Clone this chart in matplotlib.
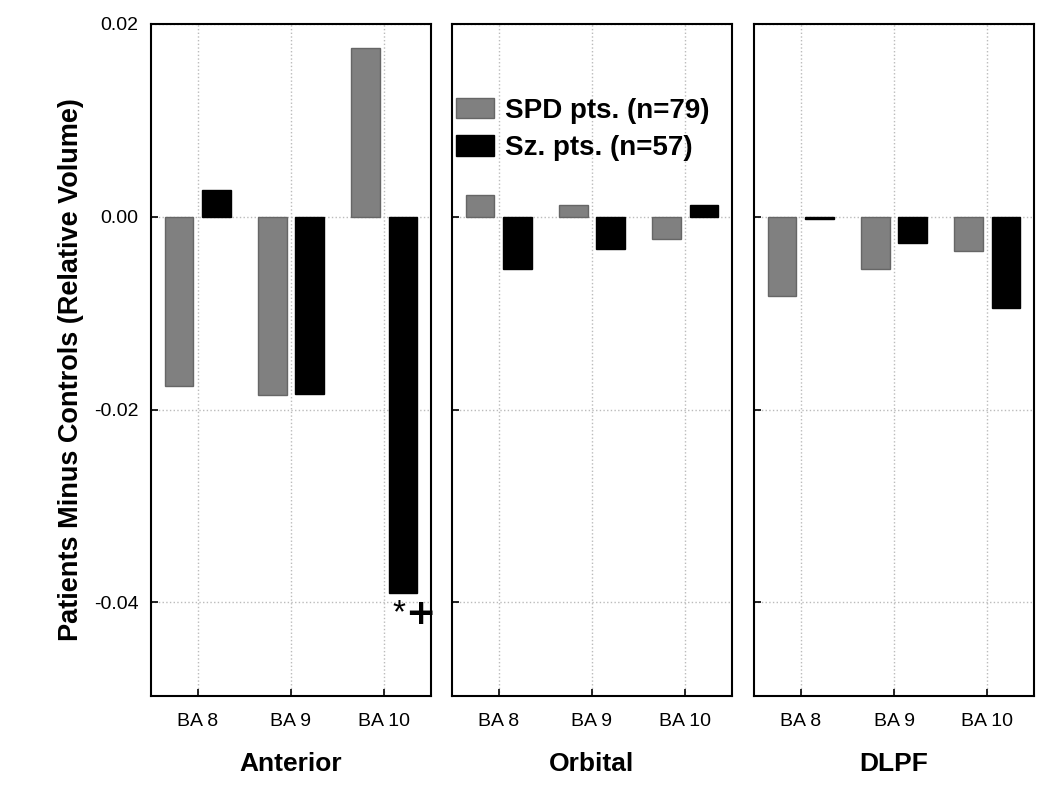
import numpy as np
import matplotlib.pyplot as plt

plt.rcParams['font.family'] = ['Liberation Sans', 'DejaVu Sans']

# Data
regions = ['Anterior', 'Orbital', 'DLPF']
areas = ['BA 8', 'BA 9', 'BA 10']
spd_anterior = [-0.0175, -0.0185, 0.0175]
sz_anterior = [0.0028, -0.0184, -0.0390]
spd_orbital = [0.0023, 0.0012, -0.0023]
sz_orbital = [-0.0054, -0.0033, 0.0012]
spd_dlpf = [-0.0082, -0.0054, -0.0035]
sz_dlpf = [-0.0002, -0.0027, -0.0095]
spd_values = [spd_anterior, spd_orbital, spd_dlpf]
sz_values = [sz_anterior, sz_orbital, sz_dlpf]
y_ticks = [0.02, 0.0, -0.02, -0.04]
y_tick_labels = ['0.02', '0.00', '-0.02', '-0.04']

fig = plt.figure(figsize=(10.5, 7.88), dpi=100)
lefts = [151 / 1050, 452 / 1050, 754 / 1050]
width = 280 / 1050
bottom = 1 - 696 / 788
height = 672 / 788

x = np.arange(len(areas))
bar_w = 0.31
axes = []
for i, region in enumerate(regions):
    ax = fig.add_axes([lefts[i], bottom, width, height])
    ax.set_axisbelow(True)
    b1 = ax.bar(x - 0.2, spd_values[i], bar_w, color='#808080', edgecolor='#666666', linewidth=1)
    b2 = ax.bar(x + 0.2, sz_values[i], bar_w, color='black', edgecolor='black', linewidth=1)
    ax.set_xlim(-0.5, 2.5)
    ax.set_ylim(-0.0497, 0.02)
    ax.set_xticks(x)
    ax.set_xticklabels(areas, fontsize=14)
    ax.set_yticks(y_ticks)
    if i == 0:
        ax.set_yticklabels(y_tick_labels, fontsize=14)
    else:
        ax.set_yticklabels([])
    ax.tick_params(direction='in', length=5, width=1.2, pad=9)
    ax.tick_params(axis='x', pad=12)
    ax.grid(True, linestyle=':', color='#bbbbbb', linewidth=1)
    for s in ax.spines.values():
        s.set_linewidth(1.5)
    ax.set_xlabel(region, fontsize=19, fontweight='bold', labelpad=16)
    axes.append(ax)

# significance markers on BA 10 Sz bar
axes[0].text(2.16, -0.0412, '*', fontsize=24, ha='center', va='center')
axes[0].text(2.385, -0.0412, '+', fontsize=26, fontweight='bold', ha='center', va='center',
             family='DejaVu Sans')

axes[1].legend([b1, b2], ['SPD pts. (n=79)', 'Sz. pts. (n=57)'],
               loc='upper left', bbox_to_anchor=(0.015, 0.89), frameon=False,
               prop={'size': 20, 'weight': 'bold'}, borderpad=0, borderaxespad=0,
               handlelength=1.35, handleheight=0.75, handletextpad=0.4, labelspacing=0.4)

fig.text(0.068, 1 - 370 / 788, 'Patients Minus Controls (Relative Volume)', rotation=90,
         fontsize=19.5, fontweight='bold', ha='center', va='center')

plt.savefig('out.png', dpi=100)
